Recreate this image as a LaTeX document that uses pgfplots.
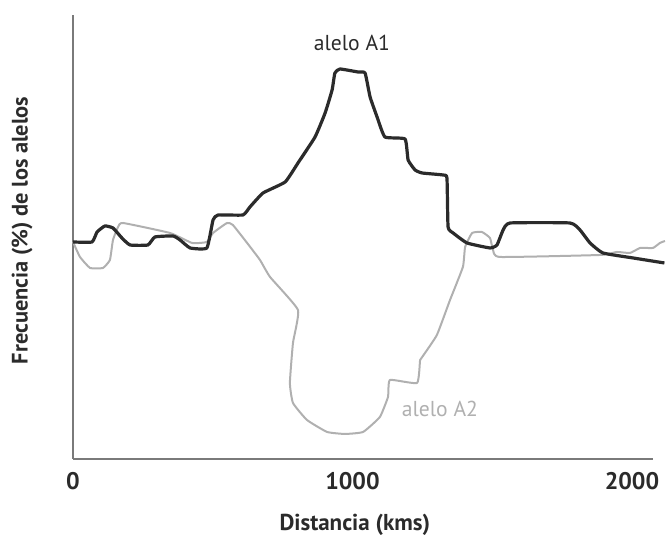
\documentclass[border=0pt]{standalone}
\usepackage{pgfplots}
\pgfplotsset{compat=1.18}
\usepackage{fontspec}
\setmainfont{PT Sans}
\definecolor{aone}{HTML}{2B2B2B}
\definecolor{atwo}{HTML}{B0B0B0}
\definecolor{axgray}{HTML}{7A7A7A}
\begin{document}
\begin{tikzpicture}
\begin{axis}[
  scale only axis,
  width=290pt, height=222pt,
  xmin=0, xmax=2075, ymin=0, ymax=444,
  clip=false,
  axis x line*=bottom, axis y line*=left,
  axis line style={axgray, line width=1pt, -},
  xtick={0,1000,2000},
  ytick=\empty,
  major tick length=0pt,
  /pgf/number format/assume math mode=true,
  /pgf/number format/1000 sep={},
  xticklabel style={font=\bfseries\fontsize{12}{13}\selectfont, text=aone, yshift=-3pt},
  xlabel={Distancia (kms)},
  ylabel={Frecuencia (\%) de los alelos},
  xlabel style={font=\bfseries\fontsize{11.5}{13}\selectfont, text=aone, at={(axis description cs:0.486,-0.149)}, anchor=center},
  ylabel style={font=\bfseries\fontsize{11.2}{13}\selectfont, text=aone, at={(axis description cs:-0.088,0.515)}, anchor=center},
]
\path (rel axis cs:-0.1259,-0.1667) rectangle (rel axis cs:1.0224,1.0338);
\addplot[atwo, line width=1pt, smooth, tension=0.25, line join=round] coordinates {
(0,217)(25,202)(61,191)(107,191)(132,199)(143,219)(161,232)(179,236)
(347,226)(426,216)(479,217)(501,226)(551,236)(572,234)(623,216)(669,199)
(705,182)(805,149)(787,116)(776,76)(787,56)(837,39)(909,27)(973,25)
(1038,27)(1098,42)(1127,62)(1134,79)(1231,76)(1242,99)(1252,103)(1302,124)
(1349,159)(1395,192)(1403,212)(1428,226)(1463,227)(1492,221)(1503,209)(1528,202)
(1886,204)(1946,207)(1993,206)(2029,211)(2075,211)(2100,216)(2118,218)
};
\addplot[aone, line width=1.6pt, smooth, tension=0.25, line join=round] coordinates {
(0,217)(68,217)(86,227)(114,233)(143,231)(175,221)(204,214)(268,214)
(293,222)(358,223)(383,219)(419,211)(479,211)(501,239)(519,244)(608,244)
(633,252)(680,266)(759,277)(805,296)(866,322)(902,346)(927,369)(937,386)
(955,390)(1020,387)(1045,386)(1063,362)(1088,342)(1116,322)(1188,320)(1199,299)
(1224,289)(1249,286)(1324,284)(1338,281)(1342,232)(1360,226)(1410,216)(1492,211)
(1517,214)(1539,229)(1564,236)(1778,236)(1814,229)(1850,216)(1896,206)(2004,201)(2116,196)
};
\node[font=\fontsize{10.8}{12}\selectfont, text=aone] at (axis cs:998,416) {alelo A1};
\node[font=\fontsize{10.8}{12}\selectfont, text=atwo] at (axis cs:1313,50) {alelo A2};
\end{axis}
\end{tikzpicture}
\end{document}
